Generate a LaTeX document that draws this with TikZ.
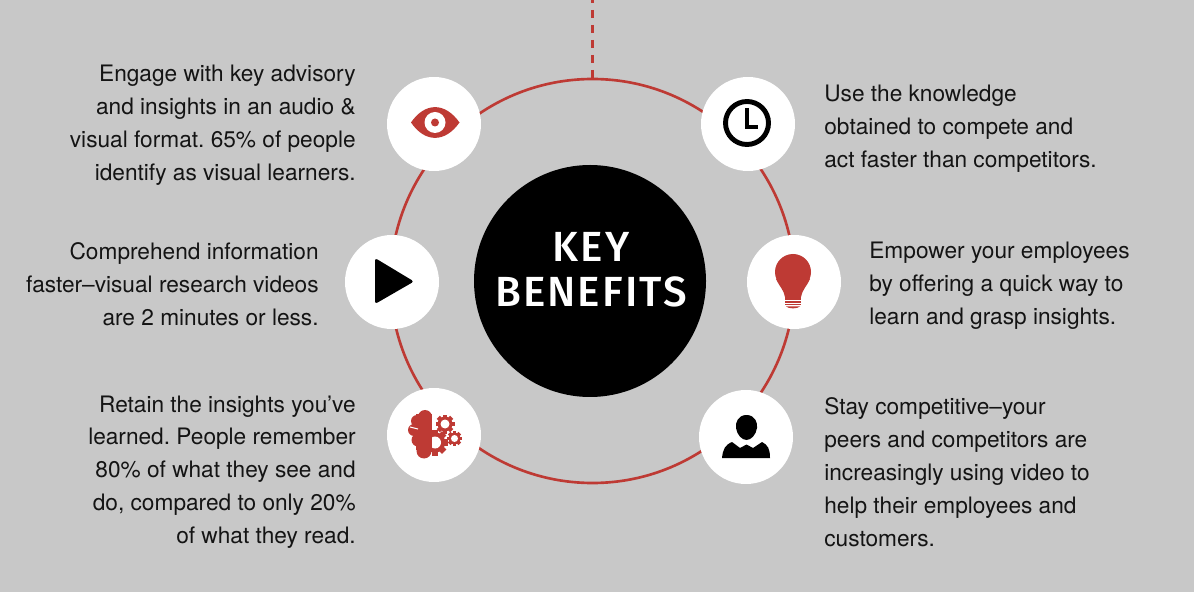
\documentclass[tikz,border=0pt]{standalone}
\usepackage{fontspec}
\setmainfont{TeX Gyre Heros}
\newfontfamily\titlefont[LetterSpace=5]{Fira Sans Medium}
\usetikzlibrary{calc}
\definecolor{panelgray}{HTML}{C8C8C8}
\definecolor{ringred}{HTML}{BE3A34}
\tikzset{
  iconbox/.style={circle, fill=white, minimum size=94*0.02cm, inner sep=0pt},
  leftnote/.style={anchor=east, align=right, inner sep=0pt, text=black!92, font=\fontsize{12.9}{18.7}\selectfont},
  rightnote/.style={anchor=west, align=left, inner sep=0pt, text=black!92, font=\fontsize{12.9}{18.7}\selectfont},
}
% one small cog: centre, outer radius, hole radius
\newcommand{\cogicon}[3]{
  \foreach \a in {0,45,...,315}
    \fill[ringred, rotate around={\a:(#1)}] ($(#1)+(-0.24*#2,0.6*#2)$) rectangle ($(#1)+(0.24*#2,-#2)$);
  \fill[ringred] (#1) circle (0.78*#2);
  \fill[white] (#1) circle (#3);
}
\begin{document}
\frenchspacing
\begin{tikzpicture}[x=0.02cm, y=-0.02cm]
  \useasboundingbox (0,0) rectangle (1200,594);
  \fill[white] (0,0) rectangle (1200,594);
  \fill[panelgray] (0,0) rectangle (1194,592);

  % ring and dashed lead-in
  \node[circle, draw=ringred, line width=1.5pt, minimum size=404*0.02cm, inner sep=0pt] (ring) at (592.5,281) {};
  \coordinate (lead) at (592.5,-5);
  \draw[ringred, line width=1.8pt, dash pattern=on 0.16cm off 0.14cm] (lead) -- (ring.north);

  % centre disc
  \node[circle, fill=black, minimum size=232*0.02cm, inner sep=0pt] (hub) at (590,281) {};
  \node[text=white, align=center, font=\titlefont\fontsize{24}{25.5}\selectfont] (title) at (591,270) {KEY\\BENEFITS};

  % icon discs
  \node[iconbox] (eye) at (434,124) {};
  \node[iconbox] (clock) at (748,124) {};
  \node[iconbox] (play) at (392,282) {};
  \node[iconbox] (bulb) at (794,282) {};
  \node[iconbox] (brain) at (434,435) {};
  \node[iconbox] (person) at (746,437) {};

  % eye
  \fill[ringred] (411,122.5) .. controls (425,102) and (445,102) .. (459.5,122.5) .. controls (445,143) and (425,143) .. (411,122.5) -- cycle;
  \fill[white] (435,122.5) circle (10.5);
  \fill[ringred] (435,122.5) circle (4);

  % clock
  \draw[black, line width=2.8pt] (747,123) circle (21.5);
  \draw[black, line width=2.5pt] (747,108) -- (747,127) -- (758,127);

  % play
  \fill[black, rounded corners=1.5pt] (375,258) -- (414,281.5) -- (375,304) -- cycle;

  % bulb
  \fill[ringred] (793,272) circle (18);
  \fill[ringred] (776,279) .. controls (779,286) and (784,290) .. (785,297) -- (801,297) .. controls (802,290) and (807,286) .. (810,279) -- cycle;
  \fill[ringred] (785,297) rectangle (801,300);
  \fill[ringred] (785,301) rectangle (801,303);
  \fill[ringred] (785,304) rectangle (801,305.5);
  \fill[ringred] (786,306.5) .. controls (789,309) and (797,309) .. (800,306.5) -- cycle;

  % person
  \fill[black] (746.5,415) .. controls (755,415) and (758,423) .. (757,428) .. controls (756,435) and (751,440) .. (746.5,440) .. controls (742,440) and (737,435) .. (736,428) .. controls (735,423) and (738,415) .. (746.5,415) -- cycle;
  \fill[black] (722,458) .. controls (723,449) and (725,445) .. (732,442) -- (740,448) -- (746.5,444.5) -- (753,448) -- (762,442) .. controls (768,445) and (770,449) .. (770,458) -- cycle;

  % cogs, then the half brain over them
  \cogicon{445,424}{9.5}{4.5}
  \cogicon{454.5,438.5}{7.5}{3.5}
  \cogicon{435,442.5}{13}{6}
  \begin{scope}
    \clip (400,400) rectangle (432,470);
    \fill[ringred] (425,417) circle (7);
    \fill[ringred] (417,421) circle (6);
    \fill[ringred] (414,430) circle (6);
    \fill[ringred] (418,440) circle (6.5);
    \fill[ringred] (424,451) circle (7.5);
    \fill[ringred] (416,414) rectangle (432,450);
  \end{scope}
  \draw[white, line width=0.6pt] (410,427) -- (418,429);

  % notes
  \node[leftnote] (noteeye) at (356,125) {Engage with key advisory\\and insights in an audio \&\\visual format. 65\% of people\\identify as visual learners.};
  \node[leftnote] (noteplay) at (319,284) {Comprehend information\\faster--visual research videos\\are 2 minutes or less.};
  \node[leftnote] (notebrain) at (356,472) {Retain the insights you’ve\\learned. People remember\\80\% of what they see and\\do, compared to only 20\%\\of what they read.};
  \node[rightnote] (noteclock) at (824,129) {Use the knowledge\\obtained to compete and\\act faster than competitors.};
  \node[rightnote] (notebulb) at (869,286) {Empower your employees\\by offering a quick way to\\learn and grasp insights.};
  \node[rightnote] (noteperson) at (824,472) {Stay competitive--your\\peers and competitors are\\increasingly using video to\\help their employees and\\customers.};
\end{tikzpicture}
\end{document}
